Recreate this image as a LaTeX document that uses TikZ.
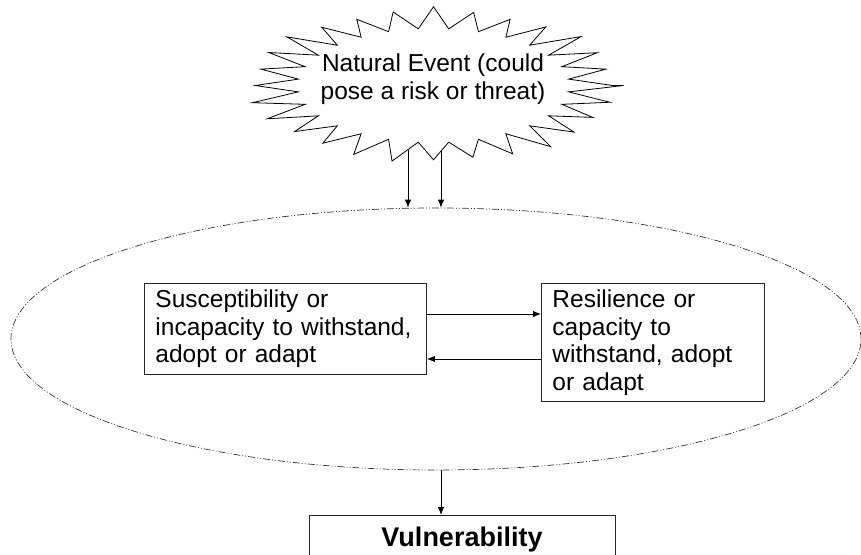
\documentclass[tikz,border=0pt]{standalone}
\usepackage{fontspec}
\setmainfont{Liberation Sans}
\usetikzlibrary{arrows.meta,positioning,shapes.geometric}

\begin{document}
\begin{tikzpicture}[
  x=1pt,y=-1pt,
  font=\fontsize{24.5}{27.5}\selectfont,
  txtbox/.style={rectangle,draw=black!85,line width=0.9pt,align=left,inner xsep=11pt,inner ysep=0pt,anchor=north west},
  burst/.style={draw=black,line width=0.8pt,line join=miter},
  frame/.style={ellipse,draw=black!80,line width=0.7pt,inner sep=0pt,
    dash pattern=on 7pt off 2pt on 1pt off 2pt on 1pt off 2pt},
  arr/.style={-{Latex[length=8pt,width=6.5pt]},line width=0.9pt}
]
\useasboundingbox (0,0) rectangle (861,554);

% natural event
\begin{scope}[shift={(433.5,85.5)}]
\draw[burst] (0:190 and 79)
  \foreach \i [evaluate=\i as \f using {1-0.07*abs(sin(\i*137))}] in {1,...,28} {
    -- ({(\i-0.5)*360/28}:136 and 57) -- ({\i*360/28}:{190*\f} and {79*\f})
  } -- cycle;
\end{scope}
\node[align=center,inner sep=0pt] (event) at (433,79) {Natural Event (could\\pose a risk or threat)};

% dash-dot frame
\node[frame,minimum width=850pt,minimum height=262pt] (frame) at (436,339) {};

% the two boxes
\node[txtbox,minimum width=282pt,minimum height=91pt,text width=260pt] (susc) at (144,283)
  {Susceptibility or\\incapacity to withstand,\\adopt or adapt};
\node[txtbox,minimum width=223pt,minimum height=118pt,text width=201pt] (resil) at (541,283)
  {Resilience or\\capacity to\\withstand, adopt\\or adapt};

% result
\node[rectangle,draw=black!85,line width=0.9pt,anchor=north,minimum width=306pt,minimum height=48pt,font=\fontsize{27}{30}\selectfont\bfseries] (vuln) at (462,515) {Vulnerability};

% arrows
\coordinate (e1) at (408,150);
\coordinate (e2) at (441,150);
\draw[arr] (e1) -- (e1 |- frame.north);
\draw[arr] (e2) -- (e2 |- frame.north);
\coordinate (s1) at ([yshift=-31pt]susc.north east);
\coordinate (s2) at ([yshift=-76pt]susc.north east);
\draw[arr] (s1) -- (s1 -| resil.west);
\draw[arr] (s2 -| resil.west) -- (s2);
\draw[arr] (frame.south -| e2) -- (e2 |- vuln.north);
\end{tikzpicture}
\end{document}
